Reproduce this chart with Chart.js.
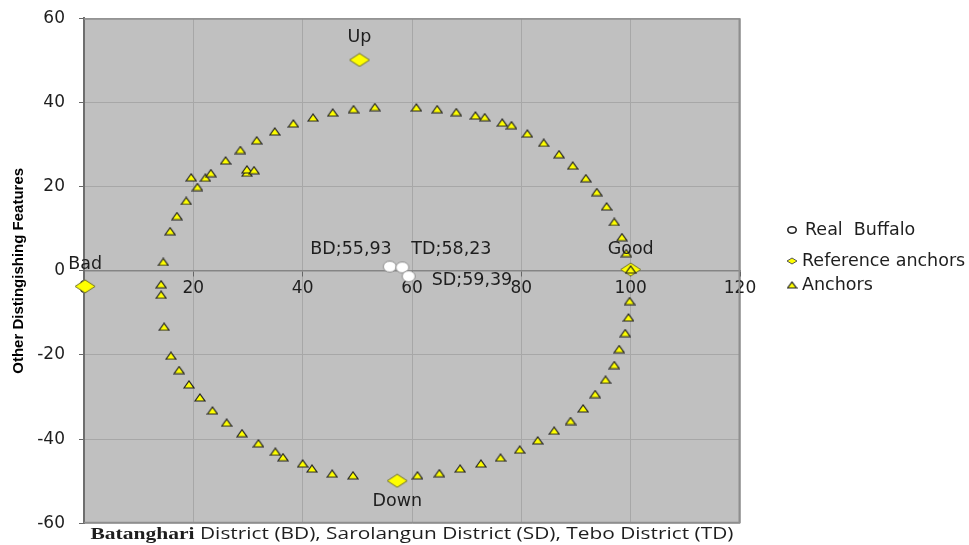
<!DOCTYPE html>
<html>
<head>
<meta charset="utf-8">
<script src="https://cdn.jsdelivr.net/npm/chart.js@4/dist/chart.umd.min.js"></script>
<style>
html,body{margin:0;padding:0;background:#fff;}
#wrap{width:969px;height:545px;position:relative;}
</style>
</head>
<body>
<div id="wrap"><canvas id="c"></canvas></div>
<script>
// ---------------- data ----------------
const buffaloNames = ['BD', 'TD', 'SD'];
const buffaloX = [55.93, 58.23, 59.39];
const buffaloY = [1.0, 0.8, -1.3];

const refNames = ['Up', 'Down', 'Good', 'Bad'];
const refX = [50.4, 57.3, 100.0, 0.2];
const refY = [50.1, -49.9, 0.3, -3.7];

const anchorX = [14.5, 15.75, 17.0, 18.7, 20.75, 19.6, 22.2, 23.2, 25.9, 28.6, 29.8, 29.8, 31.1, 31.6, 34.9, 38.3, 41.9, 45.5, 49.3, 53.2,
  60.8, 64.6, 68.1, 71.6, 73.3, 76.5, 78.2, 81.1, 84.1, 86.9, 89.4, 91.8, 93.8, 95.6, 97.0, 98.4, 99.2, 100.0,
  99.8, 99.6, 99.0, 97.9, 97.0, 95.4, 93.5, 91.3, 89.0, 86.0, 83.0, 79.7, 76.2, 72.6, 68.8, 65.0, 61.0,
  49.2, 45.4, 41.7, 40.0, 36.4, 35.0, 31.9, 28.9, 26.1, 23.5, 21.2, 19.2, 17.4, 15.9, 14.65, 14.1, 14.1];
const anchorY = [2.1, 9.4, 13.0, 16.6, 19.9, 22.2, 22.1, 23.2, 26.2, 28.7, 23.3, 24.1, 23.9, 31.0, 33.1, 35.0, 36.4, 37.6, 38.4, 38.9,
  38.8, 38.4, 37.7, 36.9, 36.5, 35.2, 34.6, 32.6, 30.4, 27.7, 25.0, 22.0, 18.7, 15.3, 11.6, 8.0, 4.2, 0.3,
  -7.2, -11.1, -14.8, -18.6, -22.4, -25.9, -29.3, -32.7, -35.7, -38.0, -40.3, -42.5, -44.4, -45.8, -47.0, -48.1, -48.6,
  -48.6, -48.2, -47.0, -45.8, -44.3, -43.0, -41.0, -38.6, -36.1, -33.2, -30.1, -27.0, -23.6, -20.2, -13.3, -5.7, -3.2];

const xTicks = [0, 20, 40, 60, 80, 100, 120];
const yTicks = [-60, -40, -20, 0, 20, 40, 60];

const seriesLabels = ['Real  Buffalo', 'Reference anchors', 'Anchors'];
const xTitleSerif = 'Batanghari';
const xTitleSans = ' District (BD), Sarolangun District (SD), Tebo District (TD)';
const yTitle = 'Other Distingishing Features';

// ---------------- marker images ----------------
function makeCanvas(w, h, draw) {
  const c = document.createElement('canvas');
  c.width = w; c.height = h;
  draw(c.getContext('2d'), w, h);
  return c;
}
function triangle(w, h, stroke) {
  return makeCanvas(w + 2, h + 2, (g) => {
    g.beginPath();
    g.moveTo(1, h + 1); g.lineTo(1 + w / 2, 1); g.lineTo(1 + w, h + 1); g.closePath();
    g.fillStyle = '#ffff00'; g.fill();
    g.lineWidth = 1.2; g.strokeStyle = stroke; g.stroke();
  });
}
function diamond(w, h, stroke) {
  return makeCanvas(w + 2, h + 2, (g) => {
    g.beginPath();
    g.moveTo(1, 1 + h / 2); g.lineTo(1 + w / 2, 1); g.lineTo(1 + w, 1 + h / 2); g.lineTo(1 + w / 2, 1 + h); g.closePath();
    g.fillStyle = '#ffff00'; g.fill();
    g.lineWidth = 1; g.strokeStyle = stroke; g.stroke();
  });
}
function ellipse(w, h, stroke, lw) {
  return makeCanvas(w + 2, h + 2, (g) => {
    g.beginPath();
    g.ellipse(1 + w / 2, 1 + h / 2, w / 2 - lw / 2, h / 2 - lw / 2, 0, 0, Math.PI * 2);
    g.fillStyle = '#ffffff'; g.fill();
    g.lineWidth = lw; g.strokeStyle = stroke; g.stroke();
  });
}
const triImg = triangle(10, 7, '#222');
const diaImg = diamond(20, 13, '#6f6f2a');
const circImg = ellipse(14, 12, '#8a8a8a', 1);
const triLeg = triangle(9, 6, '#222');
const diaLeg = diamond(10, 6, '#555');
const circLeg = ellipse(10, 8, '#222', 1.6);

// ---------------- plugins ----------------
const plotBg = {
  id: 'plotBg',
  beforeDraw(chart) {
    const {ctx, chartArea: a} = chart;
    ctx.save();
    ctx.fillStyle = '#c0c0c0';
    ctx.fillRect(a.left, a.top, a.right - a.left, a.bottom - a.top);
    ctx.restore();
  },
  beforeDatasetsDraw(chart) {
    const {ctx, chartArea: a} = chart;
    ctx.save();
    ctx.strokeStyle = '#8e8e8e';
    ctx.lineWidth = 1.5;
    ctx.beginPath();
    ctx.moveTo(a.left, a.top + 0.75);
    ctx.lineTo(a.right - 0.75, a.top + 0.75);
    ctx.lineTo(a.right - 0.75, a.bottom - 0.75);
    ctx.lineTo(a.left, a.bottom - 0.75);
    ctx.stroke();
    ctx.restore();
  }
};

const pointLabels = {
  id: 'pointLabels',
  afterDatasetsDraw(chart, args, opts) {
    const ctx = chart.ctx;
    ctx.save();
    ctx.font = opts.font;
    ctx.fillStyle = opts.color;
    ctx.textBaseline = 'middle';
    chart.data.datasets.forEach((ds, di) => {
      if (!ds.pointNames) return;
      const meta = chart.getDatasetMeta(di);
      meta.data.forEach((el, i) => {
        const name = ds.pointNames[i];
        if (!name) return;
        const txt = ds.showValue ? name + ';' + ds.data[i].x.toFixed(2).replace('.', ',') : name;
        const p = opts.placement[name] || ['center', 0, -20];
        ctx.textAlign = p[0];
        ctx.fillText(txt, el.x + p[1], el.y + p[2]);
      });
    });
    ctx.restore();
  }
};

const sideLegend = {
  id: 'sideLegend',
  afterDraw(chart, args, opts) {
    const ctx = chart.ctx;
    ctx.save();
    ctx.font = opts.font;
    ctx.fillStyle = opts.color;
    ctx.textBaseline = 'middle';
    ctx.textAlign = 'left';
    chart.data.datasets.forEach((ds, i) => {
      const y = opts.rows[i];
      const m = ds.legendMarker;
      ctx.drawImage(m, opts.markerX - m.width / 2, y - m.height / 2);
      ctx.fillText(ds.label, opts.textX[i], y);
    });
    ctx.restore();
  }
};

const xTitle = {
  id: 'xTitle',
  afterDraw(chart, args, opts) {
    const {ctx, chartArea: a} = chart;
    ctx.save();
    ctx.fillStyle = opts.color;
    ctx.textBaseline = 'alphabetic';
    ctx.font = opts.serifFont;
    const w1 = ctx.measureText(xTitleSerif).width;
    ctx.font = opts.sansFont;
    const w2 = ctx.measureText(xTitleSans).width;
    const sx = opts.width / (w1 + w2);
    const cx = (a.left + a.right) / 2;
    ctx.translate(cx - opts.width / 2, opts.y);
    ctx.scale(sx, 1);
    ctx.textAlign = 'left';
    ctx.font = opts.serifFont;
    ctx.fillText(xTitleSerif, 0, 0);
    ctx.font = opts.sansFont;
    ctx.fillText(xTitleSans, w1, 0);
    ctx.restore();
  }
};

// ---------------- chart ----------------
const tickFont = {family: 'DejaVu Sans', size: 17};

new Chart(document.getElementById('c'), {
  type: 'scatter',
  data: {
    datasets: [
      {
        label: seriesLabels[0],
        data: buffaloX.map((x, i) => ({x, y: buffaloY[i]})),
        pointNames: buffaloNames, showValue: true,
        pointStyle: circImg, pointRadius: 7, legendMarker: circLeg,
        order: 0
      },
      {
        label: seriesLabels[1],
        data: refX.map((x, i) => ({x, y: refY[i]})),
        pointNames: refNames,
        pointStyle: diaImg, pointRadius: 10, legendMarker: diaLeg,
        order: 2, clip: false
      },
      {
        label: seriesLabels[2],
        data: anchorX.map((x, i) => ({x, y: anchorY[i]})),
        pointStyle: triImg, pointRadius: 5, legendMarker: triLeg,
        order: 1, clip: false
      }
    ]
  },
  options: {
    responsive: true,
    maintainAspectRatio: false,
    animation: false,
    events: [],
    layout: {padding: {left: 0, top: 18.3, right: 229, bottom: 21.7}},
    scales: {
      x: {
        type: 'linear', min: 0, max: 120,
        position: {y: 0},
        afterBuildTicks: (s) => { s.ticks = xTicks.map(v => ({value: v})); },
        grid: {color: '#a7a7a7', lineWidth: 1, tickLength: 5, tickColor: '#666'},
        border: {display: true, color: '#858585', width: 1.5},
        ticks: {font: tickFont, color: '#1e1e1e', padding: 3, maxRotation: 0, autoSkip: false}
      },
      y: {
        type: 'linear', min: -60, max: 60,
        afterBuildTicks: (s) => { s.ticks = yTicks.map(v => ({value: v})); },
        afterFit: (s) => { s.width = 84; s.paddingTop = 0; s.paddingBottom = 0; },
        grid: {color: '#a7a7a7', lineWidth: 1, tickLength: 5, tickColor: '#666'},
        border: {display: true, color: '#6e6e6e', width: 2},
        ticks: {font: tickFont, color: '#1e1e1e', padding: 14},
        title: {
          display: true, text: yTitle, color: '#000',
          font: {family: 'Liberation Sans', size: 15, weight: 'bold'},
          padding: {top: 10, bottom: 4}
        }
      }
    },
    plugins: {
      legend: {display: false},
      tooltip: {enabled: false},
      pointLabels: {
        font: '17.5px "DejaVu Sans"', color: '#1e1e1e',
        placement: {
          Up: ['center', 0, -23], Down: ['center', 0, 21], Good: ['center', 0, -20], Bad: ['center', 0, -21.5],
          BD: ['right', 2, -17], TD: ['left', 9, -18], SD: ['left', 23, 4]
        }
      },
      sideLegend: {
        font: '17.5px "DejaVu Sans"', color: '#1e1e1e',
        markerX: 792, textX: [805, 802, 802], rows: [230, 261, 285]
      },
      xTitle: {
        serifFont: 'bold 16px "Liberation Serif"', sansFont: '15.5px "Open Sans"',
        color: '#1e1e1e', y: 539, width: 643
      }
    }
  },
  plugins: [plotBg, pointLabels, sideLegend, xTitle]
});
</script>
</body>
</html>
